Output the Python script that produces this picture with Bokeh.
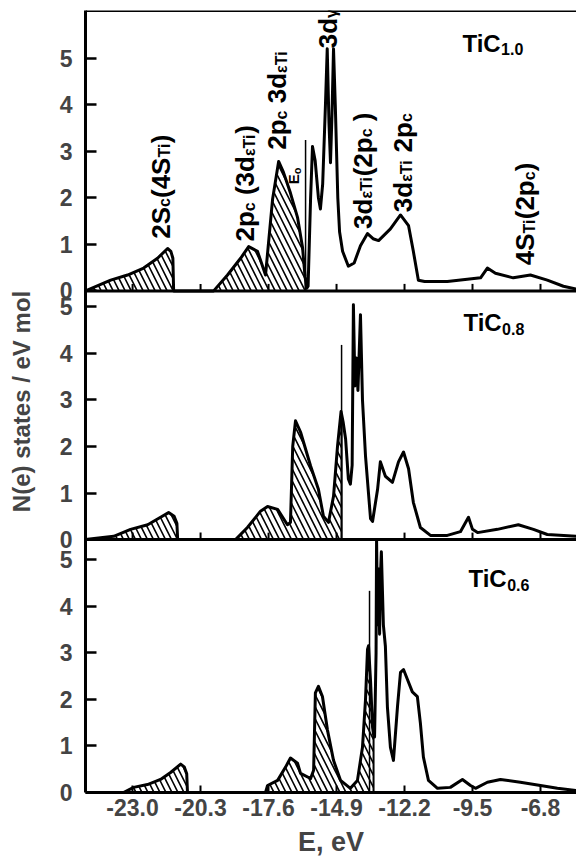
import numpy as np
from math import pi
from bokeh.plotting import figure
from bokeh.models import Range1d, FixedTicker, Label, Span
from bokeh.embed import file_html
from bokeh.resources import INLINE

# ---------------- data ----------------
X_TICKS = [-23.0, -20.3, -17.6, -14.9, -12.2, -9.5, -6.8]
X_TICK_LABELS = ["-23.0", "-20.3", "-17.6", "-14.9", "-12.2", "-9.5", "-6.8"]
Y_TICKS = [0, 1, 2, 3, 4, 5]
Y_TICK_LABELS = ["0", "1", "2", "3", "4", "5"]
E_MIN, E_MAX = -24.87, -5.37

PANEL_NAMES = ["TiC", "TiC", "TiC"]
PANEL_SUBS = ["1.0", "0.8", "0.6"]
PANEL_TOPS = [6.02, 5.34, 5.43]          # visible N(e) range of each panel

# TiC1.0
E1 = [-24.87, -23.87, -23.20, -22.56, -22.01, -21.61, -21.48, -21.40, -21.37,
      -19.78, -19.23, -18.71, -18.39, -18.04, -17.72, -17.44, -17.20, -17.01, -16.73,
      -16.45, -16.25, -16.15, -16.08, -16.03, -15.93, -15.855, -15.75, -15.62, -15.54,
      -15.45, -15.34, -15.27, -15.20, -15.14, -15.08, -15.02, -14.95, -14.85, -14.78,
      -14.66, -14.43, -14.20, -13.95, -13.67, -13.45, -13.23, -12.76, -12.36, -12.04,
      -11.85, -11.65, -11.40, -10.50, -9.18, -8.91, -8.59, -7.88, -7.20, -6.53, -5.89, -5.37]
N1 = [0.00, 0.23, 0.34, 0.49, 0.70, 0.91, 0.85, 0.70, 0.00,
      0.00, 0.34, 0.70, 0.95, 0.85, 0.34, 1.97, 2.78, 2.55, 2.10,
      1.58, 0.93, 0.30, 0.06, 0.10, 2.00, 3.10, 2.80, 2.00, 1.76,
      2.30, 4.00, 5.20, 3.60, 2.75, 3.80, 5.20, 4.00, 2.00, 1.27,
      0.85, 0.53, 0.60, 0.97, 1.23, 1.12, 1.08, 1.33, 1.63, 1.40,
      0.85, 0.23, 0.20, 0.20, 0.28, 0.49, 0.38, 0.28, 0.34, 0.23, 0.10, 0.04]

# TiC0.8
E2 = [-24.87, -24.27, -23.75, -23.08, -22.40, -21.89, -21.57, -21.35, -21.24, -21.21,
      -18.91, -18.44, -17.92, -17.64, -17.24, -16.85, -16.73, -16.64, -16.53, -16.33,
      -15.93, -15.62, -15.42, -15.22, -15.02, -14.86, -14.72, -14.64, -14.54, -14.43,
      -14.35, -14.28, -14.23, -14.17, -14.11, -14.05, -13.95, -13.87, -13.75, -13.55,
      -13.47, -13.27, -13.16, -12.96, -12.68, -12.44, -12.24, -12.04, -11.85, -11.57,
      -11.17, -10.50, -9.98, -9.66, -9.50, -9.30, -8.51, -7.68, -7.08, -6.53, -5.37]
N2 = [0.00, 0.04, 0.07, 0.22, 0.32, 0.48, 0.58, 0.50, 0.35, 0.00,
      0.00, 0.26, 0.61, 0.71, 0.65, 0.32, 0.37, 2.00, 2.55, 2.31,
      1.58, 1.08, 0.50, 0.37, 0.93, 2.01, 2.75, 2.53, 2.16, 1.30,
      1.19, 1.60, 5.04, 3.30, 3.90, 3.20, 4.83, 3.00, 1.80, 0.45,
      0.39, 1.08, 1.67, 1.36, 1.23, 1.67, 1.88, 1.52, 0.80, 0.26,
      0.09, 0.09, 0.17, 0.48, 0.22, 0.15, 0.22, 0.32, 0.22, 0.11, 0.07]

# TiC0.6
E3 = [-24.87, -23.36, -22.96, -22.41, -21.89, -21.49, -21.09, -20.95, -20.85, -20.82,
      -17.72, -17.64, -17.24, -16.93, -16.73, -16.45, -16.33, -15.93, -15.81, -15.74,
      -15.62, -15.46, -15.26, -15.02, -14.74, -14.35, -14.07, -13.87, -13.75, -13.67,
      -13.63, -13.55, -13.47, -13.43, -13.39, -13.33, -13.31, -13.27, -13.23, -13.19,
      -13.16, -13.12, -13.04, -12.96, -12.88, -12.76, -12.64, -12.48, -12.36, -12.24,
      -12.08, -11.89, -11.69, -11.57, -11.45, -11.25, -10.89, -10.38, -9.90, -9.58,
      -9.38, -8.91, -8.39, -7.60, -6.80, -6.13, -5.37]
N3 = [0.00, 0.00, 0.11, 0.17, 0.28, 0.43, 0.61, 0.55, 0.40, 0.00,
      0.00, 0.15, 0.26, 0.54, 0.74, 0.63, 0.41, 0.30, 0.48, 2.14,
      2.28, 2.06, 1.34, 0.69, 0.26, 0.09, 0.26, 0.97, 1.99, 3.07,
      3.15, 2.40, 1.40, 1.25, 1.19, 3.00, 5.43, 3.60, 4.80, 3.40,
      4.60, 5.17, 3.60, 3.14, 1.84, 0.97, 0.69, 1.84, 2.58, 2.64,
      2.42, 2.16, 2.06, 1.49, 0.76, 0.26, 0.09, 0.11, 0.28, 0.15,
      0.09, 0.22, 0.28, 0.22, 0.15, 0.09, 0.04]

# hatched (occupied) bands per panel
HATCH1 = [(-24.87, -21.37), (-19.78, -16.13)]
HATCH2 = [(-24.87, -21.21), (-18.91, -14.70)]
HATCH3 = [(-23.36, -20.82), (-17.72, -13.43)]

# Fermi level markers (position, height)
EF_POS = [-16.13, -14.70, -13.59]
EF_TOP = [3.24, 4.18, 4.33]

# rotated peak annotations in the top panel: (E, N, [(text, is_subscript)])
ANNOTATIONS = [
    (-21.49, 1.12, [("2S", 0), ("c", 1), ("(4S", 0), ("Ti", 1), (")", 0)]),
    (-18.12, 1.06, [("2p", 0), ("c", 1), (" (3d", 0), ("εTi", 1), (")", 0)]),
    (-16.85, 3.03, [("2p", 0), ("c", 1), (" 3d", 0), ("εTi", 1)]),
    (-14.86, 5.21, [("3d", 0), ("γ", 1)]),
    (-13.47, 1.33, [("3d", 0), ("εTi", 1), ("(2p", 0), ("c", 1), (" )", 0)]),
    (-11.88, 1.69, [("3d", 0), ("εTi", 1), (" 2p", 0), ("c", 1)]),
    (-7.00, 0.55, [("4S", 0), ("Ti", 1), ("(2p", 0), ("c", 1), (")", 0)]),
]
E0_LABEL = (-16.21, 2.29, [("E", 0), ("o", 1)])
NAME_POS = [(-9.90, 5.15), (-9.86, 4.48), (-9.66, 4.42)]

Y_LABEL = "N(e) states / eV mol"
X_LABEL = "E, eV"

# ---------------- layout / styling ----------------
FONT = "Liberation Sans"
CW = {'S': 0.667, 'T': 0.611, 'i': 0.278, 'c': 0.556, 'd': 0.611, 'p': 0.611,
      '(': 0.333, ')': 0.333, ' ': 0.278, '.': 0.278, 'C': 0.722, 'E': 0.667,
      'o': 0.611, 'ε': 0.5, 'γ': 0.556}
for dch in "0123456789":
    CW[dch] = 0.556

# vertical stacking: bottom panel at 0, the others above it
OFFSETS = [PANEL_TOPS[2] + PANEL_TOPS[1], PANEL_TOPS[2], 0.0]
Y_TOTAL = OFFSETS[0] + PANEL_TOPS[0]

ROT_FIX = -10   # baseline correction (px) for rotated labels
HOR_FIX = 8     # baseline correction (px) for horizontal labels


def twidth(s, size):
    return sum(CW.get(ch, 0.556) for ch in s) * size


def rich_label(p, x, y, segs, size, sub_size, drop, rotated):
    adv = 0.0
    for txt, sub in segs:
        fs = sub_size if sub else size
        lead = len(txt) - len(txt.lstrip(" "))
        adv += twidth(" " * lead, fs)
        t = txt.strip(" ")
        if t:
            kw = dict(x=x, y=y, text=t, text_font=FONT, text_font_style="bold",
                      text_font_size=f"{fs}px", text_color="black",
                      text_align="left", text_baseline="alphabetic")
            if rotated:
                lab = Label(angle=pi / 2, x_offset=(drop if sub else 0) + ROT_FIX,
                            y_offset=adv, **kw)
            else:
                lab = Label(x_offset=adv, y_offset=(-drop if sub else 0) + HOR_FIX, **kw)
            p.add_layout(lab)
        adv += twidth(t, fs)


p = figure(width=576, height=862, x_range=Range1d(E_MIN, E_MAX),
           y_range=Range1d(0, Y_TOTAL), output_backend="svg", toolbar_location=None,
           min_border_left=85, min_border_right=0, min_border_top=10, min_border_bottom=70)
p.outline_line_color = None
p.grid.visible = False
p.background_fill_color = "white"
p.border_fill_color = "white"

xa = p.xaxis[0]
xa.ticker = FixedTicker(ticks=X_TICKS)
xa.major_label_overrides = {t: l for t, l in zip(X_TICKS, X_TICK_LABELS)}
xa.major_tick_in = 7
xa.major_tick_out = 0
xa.minor_tick_in = 0
xa.minor_tick_out = 0
xa.axis_line_width = 3
xa.major_tick_line_width = 2
xa.major_label_text_font = FONT
xa.major_label_text_font_style = "bold"
xa.major_label_text_font_size = "23px"
xa.major_label_standoff = 6
xa.axis_label = X_LABEL
xa.axis_label_text_font = FONT
xa.axis_label_text_font_style = "bold"
xa.axis_label_text_font_size = "27px"
xa.axis_label_standoff = 8

ytick_vals, ytick_map = [], {}
for off in OFFSETS:
    for t, l in zip(Y_TICKS, Y_TICK_LABELS):
        v = round(off + t, 4)
        ytick_vals.append(v)
        ytick_map[v] = l
ya = p.yaxis[0]
ya.ticker = FixedTicker(ticks=ytick_vals)
ya.major_label_overrides = ytick_map
ya.major_tick_in = 11
ya.major_tick_out = 0
ya.minor_tick_in = 0
ya.minor_tick_out = 0
ya.axis_line_width = 3
ya.major_tick_line_width = 2.5
ya.major_label_text_font = FONT
ya.major_label_text_font_style = "bold"
ya.major_label_text_font_size = "23px"
ya.major_label_standoff = 13
ya.axis_label = Y_LABEL
ya.axis_label_text_font = FONT
ya.axis_label_text_font_style = "bold"
ya.axis_label_text_font_size = "24px"
ya.axis_label_standoff = 22

# panel frame lines
for off in OFFSETS[:2]:
    p.add_layout(Span(location=off, dimension="width", line_color="black", line_width=3))
p.add_layout(Span(location=Y_TOTAL, dimension="width", line_color="black", line_width=3))

# inward x tick marks on the upper panels' baselines
for off in OFFSETS[:2]:
    p.segment(x0=X_TICKS, y0=[off] * len(X_TICKS), x1=X_TICKS,
              y1=[off + 0.15] * len(X_TICKS), line_color="black", line_width=2)


def draw_dos(E, N, bands, ef, ef_top, off):
    Ea = np.array(E)
    Na = np.array(N) + off
    for a, b in bands:
        m = (Ea > a) & (Ea < b)
        xs = np.concatenate([[a], Ea[m], [b]])
        ys = np.concatenate([[np.interp(a, Ea, Na)], Na[m], [np.interp(b, Ea, Na)]])
        p.varea(x=xs, y1=np.full_like(xs, off), y2=ys, fill_color=None, fill_alpha=0,
                hatch_pattern="\\", hatch_color="black", hatch_weight=1.6,
                hatch_scale=12)
        yb = np.interp(b, Ea, Na)
        p.segment(x0=[b], y0=[off], x1=[b], y1=[yb], line_color="black", line_width=2)
    p.segment(x0=[ef], y0=[off], x1=[ef], y1=[off + ef_top], line_color="black",
              line_width=1.5)
    p.line(Ea, Na, line_color="black", line_width=3, line_join="round")


datasets = [(E1, N1, HATCH1), (E2, N2, HATCH2), (E3, N3, HATCH3)]
for i, (E, N, H) in enumerate(datasets):
    off = OFFSETS[i]
    draw_dos(E, N, H, EF_POS[i], EF_TOP[i], off)
    nx, ny = NAME_POS[i]
    rich_label(p, nx, ny + off, [(PANEL_NAMES[i], 0), (PANEL_SUBS[i], 1)], 24, 16, 6, False)

for x, y, segs in ANNOTATIONS:
    rich_label(p, x, y + OFFSETS[0], segs, 26, 16, 4, True)
rich_label(p, E0_LABEL[0], E0_LABEL[1] + OFFSETS[0], E0_LABEL[2], 15, 11, 3, True)

open("out.html", "w").write(file_html(p, INLINE))
